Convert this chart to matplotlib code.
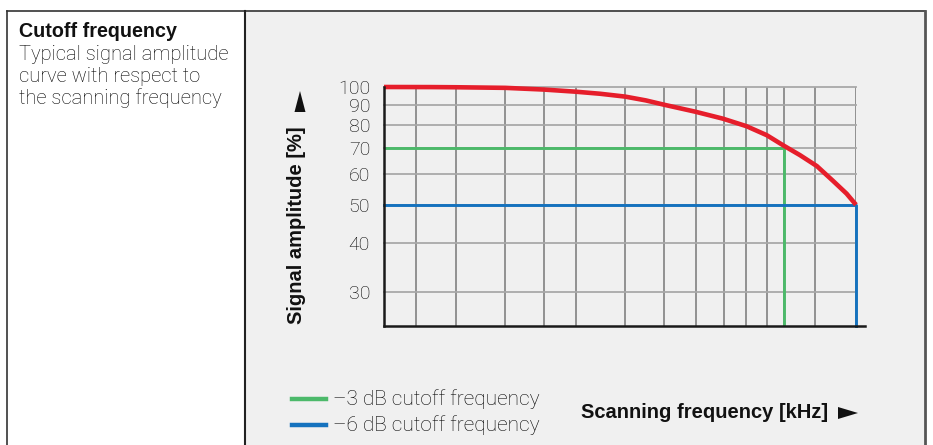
import numpy as np
import matplotlib
matplotlib.use("Agg")
import matplotlib.pyplot as plt
from matplotlib.lines import Line2D
from matplotlib.patches import Rectangle, Polygon

# ---- data ----
freq = [0, 10, 15.3, 25.7, 33.9, 40.5, 45.8, 51.1, 55.5, 59.5, 65.9, 71.8,
        76.8, 81.1, 84.7, 88.1, 91.7, 95.1, 98.0, 100]
amplitude = [100, 99.95, 99.85, 99.5, 98.5, 97.3, 96.1, 94.5, 92.4, 90.0,
             86.5, 83.0, 79.4, 75.3, 70.8, 67.0, 62.8, 57.6, 53.4, 50]
cut3_freq, cut3_amp = 84.7, 70
cut6_freq, cut6_amp = 100, 50
grid_x = [6.8, 15.3, 25.7, 33.9, 40.7, 51.1, 59.3, 66.1, 72.0, 76.7, 81.1,
          84.7, 91.3, 100]
y_ticks = [30, 40, 50, 60, 70, 80, 90, 100]
legend_labels = ["\u20133 dB cutoff frequency", "\u20136 dB cutoff frequency"]

W, H = 933, 445
RED, GREEN, BLUE = "#e61e2b", "#4cb96a", "#1572be"
LIGHT = dict(family="Roboto", weight="light")
BOLD = dict(family="Liberation Sans", weight="bold")


def px(x, y):
    return x / W, 1 - y / H


fig = plt.figure(figsize=(W / 100, H / 100), dpi=100)
fig.patch.set_facecolor("white")

# table cells
fig.patches.append(Rectangle(px(245, 445), (924 - 245) / W, (445 - 10) / H,
                             transform=fig.transFigure, facecolor="#f0f0f0",
                             edgecolor="none", zorder=-5))
for xs, ys, c, lw in [([6.5, 924.5], [10.5, 10.5], "#333333", 1.2),
                      ([6.5, 6.5], [10.5, 445], "#333333", 1.2),
                      ([244.5, 244.5], [10.5, 445], "#222222", 1.5),
                      ([924.5, 924.5], [10.5, 445], "#555555", 2.0)]:
    fig.lines.append(Line2D([x / W for x in xs], [1 - y / H for y in ys],
                            transform=fig.transFigure, color=c, lw=lw))

# left cell text
fig.text(*px(19, 37), "Cutoff frequency", fontsize=14.2, color="#111111",
         va="baseline", **BOLD)
for i, line in enumerate(["Typical signal amplitude", "curve with respect to",
                          "the scanning frequency"]):
    fig.text(*px(19, 60 + i * 22), line, fontsize=14.5, color="black",
             va="baseline", **LIGHT)

# chart
ax = fig.add_axes([384 / W, (H - 326) / H, 472 / W, 239 / H])
ax.set_zorder(2)
ax.set_facecolor("none")
ax.set_yscale("log")
ax.set_xlim(0, 100)
ax.set_ylim(24.5, 100)

for gx in grid_x:
    ax.axvline(gx, color="#8a8a8a", lw=1.3, zorder=1)
for gy in y_ticks:
    ax.axhline(gy, color="#a8a8a8", lw=1.3, zorder=1, clip_on=False)

ax.plot([0, cut3_freq, cut3_freq], [cut3_amp, cut3_amp, 24.5], color=GREEN,
        lw=2.1, zorder=3)
ax.plot([0, cut6_freq, cut6_freq], [cut6_amp, cut6_amp, 24.5], color=BLUE,
        lw=2.1, zorder=3, clip_on=False)
ax.plot(freq, amplitude, color=RED, lw=3.3, zorder=4, clip_on=False,
        solid_capstyle="butt", solid_joinstyle="round")

# axes lines
ax.plot([0, 0], [24.5, 100], color="#1a1a1a", lw=1.8, zorder=5, clip_on=False)
ax.plot([0, 102], [24.5, 24.5], color="#1a1a1a", lw=1.8, zorder=5,
        clip_on=False)
for s in ax.spines.values():
    s.set_visible(False)

ax.yaxis.set_minor_locator(matplotlib.ticker.NullLocator())
ax.set_yticks(y_ticks)
ax.set_yticklabels([str(v) for v in y_ticks], fontsize=14, color="black",
                   **LIGHT)
ax.tick_params(axis="y", length=0, pad=10)
ax.set_xticks([])

# axis titles with arrow heads
fig.text(*px(297, 324), "Signal amplitude [%]", rotation=90,
         fontsize=14.5, color="#111111", ha="center", va="bottom", **BOLD)
fig.patches.append(Polygon([px(294.5, 112), px(305.5, 112), px(300, 91)],
                           closed=True, transform=fig.transFigure,
                           facecolor="#111111", edgecolor="none"))
fig.text(*px(581, 413), "Scanning frequency [kHz]", fontsize=14.5,
         color="#111111", ha="left", va="center", **BOLD)
fig.patches.append(Polygon([px(838, 407), px(838, 419), px(858, 413)],
                           closed=True, transform=fig.transFigure,
                           facecolor="#111111", edgecolor="none"))

# legend
for i, (lab, col) in enumerate(zip(legend_labels, [GREEN, BLUE])):
    y = 399 + i * 26
    fig.lines.append(Line2D([292 / W, 326 / W], [1 - y / H] * 2,
                            transform=fig.transFigure, color=col, lw=3.2))
    fig.text(*px(333, y), lab, fontsize=15, color="black", va="center",
             **LIGHT)

fig.savefig("out.png", dpi=100)
